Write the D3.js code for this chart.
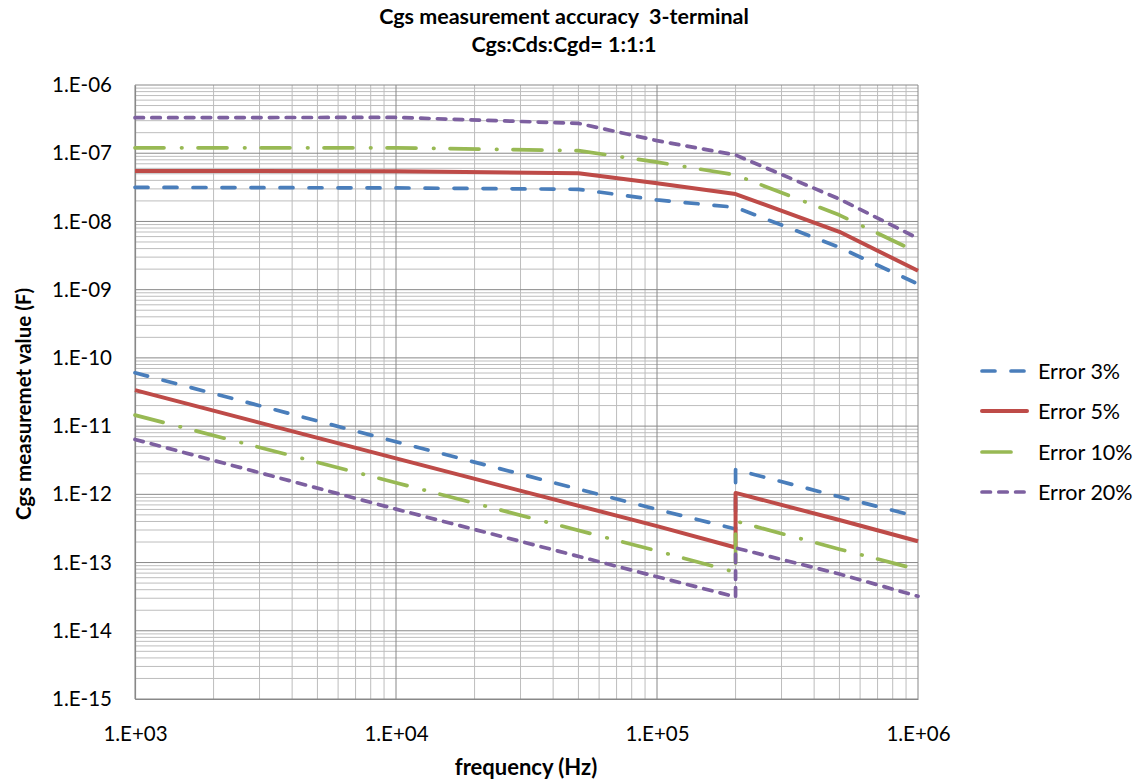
<!DOCTYPE html>
<html>
<head>
<meta charset="utf-8">
<script src="https://cdn.jsdelivr.net/npm/d3@7"></script>
<style>
  html, body { margin: 0; padding: 0; background: #fff; }
  svg { display: block; font-family: Lato, "Open Sans", sans-serif; }
  text { white-space: pre; }
</style>
</head>
<body>
<svg id="chart" width="1139" height="780"></svg>
<script>
// ---- data ----
const titleLines = ["Cgs measurement accuracy  3-terminal", "Cgs:Cds:Cgd= 1:1:1"];
const xTitle = "frequency (Hz)";
const yTitle = "Cgs measuremet value (F)";
const seriesNames = ["Error 3%", "Error 5%", "Error 10%", "Error 20%"];
const xTickValues = [1e3, 1e4, 1e5, 1e6];
const yTickValues = [1e-15, 1e-14, 1e-13, 1e-12, 1e-11, 1e-10, 1e-9, 1e-8, 1e-7, 1e-6];

// upper branch
const freqUpper = [1e3, 1e4, 5e4, 1e5, 2e5, 5e5, 1e6];
const upper3  = [3.16e-8, 3.10e-8, 2.96e-8, 2.07e-8, 1.61e-8, 4.17e-9, 1.21e-9];
const upper5  = [5.50e-8, 5.45e-8, 5.07e-8, 3.62e-8, 2.52e-8, 7.06e-9, 1.89e-9];
const upper10 = [1.20e-7, 1.20e-7, 1.09e-7, 7.40e-8, 4.80e-8, 1.24e-8, 3.50e-9];
const upper20 = [3.32e-7, 3.35e-7, 2.74e-7, 1.53e-7, 9.42e-8, 2.13e-8, 5.65e-9];

// lower branch (jump at 2e5)
const freqLower = [1e3, 1e4, 1e5, 2e5, 2e5, 5e5, 1e6];
const lower3  = [6.05e-11, 5.90e-12, 6.00e-13, 3.10e-13, 2.30e-12, 9.20e-13, 4.68e-13];
const lower5  = [3.37e-11, 3.36e-12, 3.42e-13, 1.66e-13, 1.05e-12, 4.20e-13, 2.05e-13];
const lower10 = [1.45e-11, 1.48e-12, 1.48e-13, 7.20e-14, 4.05e-13, 1.57e-13, 7.90e-14];
const lower20 = [6.38e-12, 6.07e-13, 6.20e-14, 3.14e-14, 1.64e-13, 6.80e-14, 3.20e-14];

// ---- styles ----
const colors = ["#4A7EBB", "#BE4B48", "#98B954", "#7D60A0"];
const dashes = ["13,16", null, "29,17.5,0.5,16", "8.5,8.3"];

const svg = d3.select("#chart");
svg.append("rect").attr("width", 1139).attr("height", 780).attr("fill", "#fff");

const x = d3.scaleLog().domain([1e3, 1e6]).range([135, 918]);
const y = d3.scaleLog().domain([1e-15, 1e-6]).range([699, 85]);

// grid
const minorX = [], minorY = [];
for (let e = 3; e < 6; e++) for (let k = 2; k <= 9; k++) minorX.push(k * Math.pow(10, e));
for (let e = -15; e < -6; e++) for (let k = 2; k <= 9; k++) minorY.push(k * Math.pow(10, e));

const grid = svg.append("g");
grid.selectAll(".mx").data(minorX).join("line")
  .attr("x1", d => x(d)).attr("x2", d => x(d)).attr("y1", 85).attr("y2", 699)
  .attr("stroke", "#bdbdbd").attr("stroke-width", 1);
grid.selectAll(".my").data(minorY).join("line")
  .attr("y1", d => y(d)).attr("y2", d => y(d)).attr("x1", 135).attr("x2", 918)
  .attr("stroke", "#bdbdbd").attr("stroke-width", 1);
grid.selectAll(".Mx").data(xTickValues).join("line")
  .attr("x1", d => x(d)).attr("x2", d => x(d)).attr("y1", 85).attr("y2", 699)
  .attr("stroke", "#888888").attr("stroke-width", 1);
grid.selectAll(".My").data(yTickValues).join("line")
  .attr("y1", d => y(d)).attr("y2", d => y(d)).attr("x1", 135).attr("x2", 918)
  .attr("stroke", "#888888").attr("stroke-width", 1);

// axes
const fmt = d => {
  const e = Math.round(Math.log10(d));
  return "1.E" + (e < 0 ? "-" : "+") + String(Math.abs(e)).padStart(2, "0");
};
const xAxis = svg.append("g").attr("transform", "translate(0,699)")
  .call(d3.axisBottom(x).tickValues(xTickValues).tickFormat(fmt).tickSize(0).tickPadding(27));
const yAxis = svg.append("g").attr("transform", "translate(135,0)")
  .call(d3.axisLeft(y).tickValues(yTickValues).tickFormat(fmt).tickSize(0).tickPadding(23));
[xAxis, yAxis].forEach(a => {
  a.select(".domain").attr("stroke", "#888888").attr("stroke-width", 1.2);
  a.selectAll("text").attr("font-family", "Lato, sans-serif").attr("font-size", 20.5).attr("fill", "#000");
});

// lines
const line = d3.line().x(d => x(d[0])).y(d => y(d[1]));
const uppers = [upper3, upper5, upper10, upper20];
const lowers = [lower3, lower5, lower10, lower20];
const plot = svg.append("g");
[0, 1, 2, 3].forEach(i => {
  [[freqUpper, uppers[i]], [freqLower, lowers[i]]].forEach(([fx, vals]) => {
    plot.append("path")
      .datum(fx.map((f, j) => [f, vals[j]]))
      .attr("d", line)
      .attr("fill", "none")
      .attr("stroke", colors[i])
      .attr("stroke-width", i === 1 ? 4 : 3.7)
      .attr("stroke-linecap", i === 1 ? "butt" : "round")
      .attr("stroke-linejoin", "round")
      .attr("stroke-dasharray", dashes[i]);
  });
});

// titles
const tg = svg.append("g").attr("font-weight", "bold").attr("text-anchor", "middle");
titleLines.forEach((t, i) => {
  tg.append("text").attr("x", 564).attr("y", 16 + i * 28).attr("dy", "0.35em")
    .attr("font-size", 21.5).text(t);
});
svg.append("text").attr("x", 526).attr("y", 767).attr("dy", "0.35em")
  .attr("text-anchor", "middle").attr("font-weight", "bold").attr("font-size", 22).text(xTitle);
svg.append("text").attr("transform", "translate(24,404) rotate(-90)").attr("dy", "0.35em")
  .attr("text-anchor", "middle").attr("font-weight", "bold").attr("font-size", 20.5).text(yTitle);

// legend
const legendY = [371, 411, 452, 492];
const lg = svg.append("g");
seriesNames.forEach((name, i) => {
  lg.append("line").attr("x1", 982).attr("x2", 1027).attr("y1", legendY[i]).attr("y2", legendY[i])
    .attr("stroke", colors[i]).attr("stroke-width", i === 1 ? 4 : 3.7)
    .attr("stroke-linecap", "round").attr("stroke-dasharray", dashes[i]);
  lg.append("text").attr("x", 1038).attr("y", legendY[i]).attr("dy", "0.35em")
    .attr("font-size", 21.5).text(name);
});
</script>
</body>
</html>
